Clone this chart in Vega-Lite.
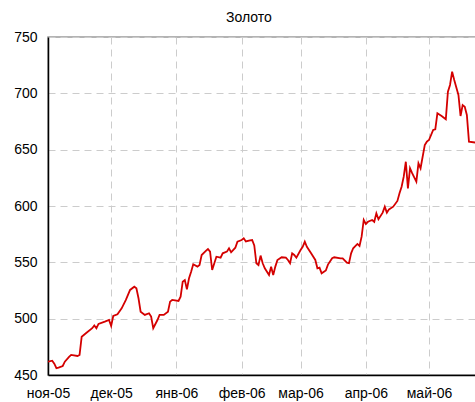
{
  "$schema": "https://vega.github.io/schema/vega-lite/v6.json",
  "width": 430,
  "height": 338,
  "autosize": {"type": "none"},
  "padding": {"left": 48, "top": 37, "right": 0, "bottom": 27},
  "background": "white",
  "title": {"text": "Золото", "fontSize": 14, "font": "Liberation Sans", "fontWeight": "normal", "color": "black", "anchor": "start", "frame": "group", "dx": 178, "offset": 5},
  "config": {
    "view": {"stroke": "#9a9a9a", "strokeWidth": 1.5},
    "axis": {"labelFont": "Liberation Sans", "labelFontSize": 14, "labelColor": "black", "domainColor": "black", "domainWidth": 1.5, "ticks": false, "gridColor": "#cccccc", "gridDash": [7, 5], "gridWidth": 1, "title": null}
  },
  "data": {"values": [
    {"date":"2005-11-01","price":461.8},{"date":"2005-11-03","price":462.7},{"date":"2005-11-04","price":460},{"date":"2005-11-05","price":456},{"date":"2005-11-06","price":456.5},{"date":"2005-11-08","price":458},{"date":"2005-11-09","price":461.8},{"date":"2005-11-11","price":466},{"date":"2005-11-12","price":467.8},{"date":"2005-11-15","price":466.9},{"date":"2005-11-16","price":467.8},{"date":"2005-11-17","price":484},{"date":"2005-11-19","price":487},{"date":"2005-11-22","price":491.5},{"date":"2005-11-23","price":494},{"date":"2005-11-24","price":491.5},{"date":"2005-11-25","price":495.3},{"date":"2005-11-28","price":497.3},{"date":"2005-11-30","price":498.8},
    {"date":"2005-12-01","price":493.5},{"date":"2005-12-02","price":502.4},{"date":"2005-12-04","price":503.9},{"date":"2005-12-06","price":509.2},{"date":"2005-12-08","price":516.6},{"date":"2005-12-10","price":525.5},{"date":"2005-12-12","price":528.4},{"date":"2005-12-13","price":527},{"date":"2005-12-14","price":518.1},{"date":"2005-12-15","price":506.2},{"date":"2005-12-17","price":503.3},{"date":"2005-12-19","price":504.8},{"date":"2005-12-20","price":501.8},{"date":"2005-12-21","price":491.5},{"date":"2005-12-23","price":498.8},{"date":"2005-12-24","price":503.3},{"date":"2005-12-26","price":503.3},{"date":"2005-12-28","price":506.2},{"date":"2005-12-29","price":515.1},{"date":"2005-12-30","price":516.6},
    {"date":"2006-01-02","price":515.7},{"date":"2006-01-03","price":519.5},{"date":"2006-01-04","price":532.8},{"date":"2006-01-05","price":534.3},{"date":"2006-01-06","price":526},{"date":"2006-01-07","price":535.8},{"date":"2006-01-08","price":541.7},{"date":"2006-01-09","price":548.3},{"date":"2006-01-11","price":546.2},{"date":"2006-01-12","price":547.6},{"date":"2006-01-13","price":556.5},{"date":"2006-01-15","price":560.1},{"date":"2006-01-16","price":561.8},{"date":"2006-01-17","price":559.5},{"date":"2006-01-18","price":543.2},{"date":"2006-01-20","price":555},{"date":"2006-01-22","price":554.1},{"date":"2006-01-23","price":558},{"date":"2006-01-25","price":559.5},{"date":"2006-01-26","price":562.5},{"date":"2006-01-27","price":558.9},{"date":"2006-01-29","price":563},{"date":"2006-01-30","price":568.3},
    {"date":"2006-02-01","price":569.8},{"date":"2006-02-02","price":571.3},{"date":"2006-02-03","price":568.5},{"date":"2006-02-05","price":569.5},{"date":"2006-02-06","price":569.8},{"date":"2006-02-07","price":565},{"date":"2006-02-08","price":549.2},{"date":"2006-02-09","price":547.6},{"date":"2006-02-10","price":556},{"date":"2006-02-11","price":549.2},{"date":"2006-02-12","price":544.7},{"date":"2006-02-14","price":538.8},{"date":"2006-02-15","price":546.2},{"date":"2006-02-16","price":538.8},{"date":"2006-02-17","price":546.2},{"date":"2006-02-18","price":552.1},{"date":"2006-02-20","price":554.5},{"date":"2006-02-22","price":554.1},{"date":"2006-02-23","price":552.1},{"date":"2006-02-24","price":549.2},{"date":"2006-02-25","price":558},{"date":"2006-02-26","price":556.5},{"date":"2006-02-27","price":554.1},
    {"date":"2006-03-01","price":560.9},{"date":"2006-03-02","price":563.8},{"date":"2006-03-03","price":568.3},{"date":"2006-03-04","price":563.8},{"date":"2006-03-06","price":558},{"date":"2006-03-08","price":552.1},{"date":"2006-03-09","price":544.7},{"date":"2006-03-10","price":545.3},{"date":"2006-03-11","price":540.3},{"date":"2006-03-13","price":542.8},{"date":"2006-03-14","price":548},{"date":"2006-03-16","price":553.6},{"date":"2006-03-17","price":554.5},{"date":"2006-03-20","price":553.6},{"date":"2006-03-21","price":553.6},{"date":"2006-03-23","price":549.7},{"date":"2006-03-24","price":549.2},{"date":"2006-03-25","price":558},{"date":"2006-03-26","price":562.5},{"date":"2006-03-28","price":566.3},{"date":"2006-03-29","price":564.5},{"date":"2006-03-30","price":572.8},{"date":"2006-03-31","price":587.6},
    {"date":"2006-04-01","price":584},{"date":"2006-04-02","price":586},{"date":"2006-04-04","price":587.6},{"date":"2006-04-05","price":586},{"date":"2006-04-06","price":593.5},{"date":"2006-04-07","price":588.2},{"date":"2006-04-09","price":594.1},{"date":"2006-04-10","price":599.4},{"date":"2006-04-11","price":594.1},{"date":"2006-04-12","price":597},{"date":"2006-04-14","price":599.4},{"date":"2006-04-16","price":604.5},{"date":"2006-04-17","price":611.3},{"date":"2006-04-18","price":617.1},{"date":"2006-04-19","price":626},{"date":"2006-04-20","price":639.3},{"date":"2006-04-21","price":615.7},{"date":"2006-04-22","price":633.5},{"date":"2006-04-23","price":629.1},{"date":"2006-04-25","price":621.6},{"date":"2006-04-26","price":637.9},{"date":"2006-04-27","price":633.5},{"date":"2006-04-29","price":654.1},{"date":"2006-04-30","price":657.1},
    {"date":"2006-05-01","price":658.6},{"date":"2006-05-03","price":667.5},{"date":"2006-05-04","price":668.1},{"date":"2006-05-05","price":682.3},{"date":"2006-05-07","price":679.9},{"date":"2006-05-09","price":677},{"date":"2006-05-10","price":701.5},{"date":"2006-05-11","price":707.4},{"date":"2006-05-12","price":719.2},{"date":"2006-05-13","price":711.8},{"date":"2006-05-15","price":698.5},{"date":"2006-05-16","price":679.9},{"date":"2006-05-17","price":689.6},{"date":"2006-05-18","price":688.1},{"date":"2006-05-19","price":680.8},{"date":"2006-05-20","price":657.1},{"date":"2006-05-23","price":656.3},{"date":"2006-05-24","price":656.3}
  ]},
  "mark": {"type": "line", "color": "#d40000", "strokeWidth": 1.8, "clip": true},
  "encoding": {
    "x": {
      "field": "date", "type": "temporal",
      "scale": {"type": "utc", "domain": [{"year": 2005, "month": 11, "date": 1, "utc": true}, {"year": 2006, "month": 5, "date": 24, "hours": 7, "utc": true}]},
      "axis": {
        "values": [
          {"year": 2005, "month": 11, "date": 1, "utc": true},
          {"year": 2005, "month": 12, "date": 1, "utc": true},
          {"year": 2006, "month": 1, "date": 1, "utc": true},
          {"year": 2006, "month": 2, "date": 1, "utc": true},
          {"year": 2006, "month": 3, "date": 1, "utc": true},
          {"year": 2006, "month": 4, "date": 1, "utc": true},
          {"year": 2006, "month": 5, "date": 1, "utc": true}
        ],
        "labelExpr": "['янв','фев','мар','апр','май','июн','июл','авг','сен','окт','ноя','дек'][utcmonth(datum.value)] + '-' + utcFormat(datum.value, '%y')",
        "labelPadding": 11,
        "labelFlush": false,
        "labelOverlap": false,
        "grid": true
      }
    },
    "y": {
      "field": "price", "type": "quantitative",
      "scale": {"domain": [450, 750], "nice": false, "zero": false},
      "axis": {"values": [450, 500, 550, 600, 650, 700, 750], "labelPadding": 11, "grid": true}
    }
  }
}
